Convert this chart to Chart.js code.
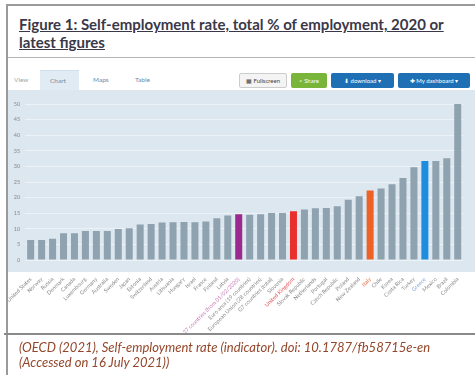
<!DOCTYPE html>
<html><head><meta charset="utf-8">
<script src="https://cdn.jsdelivr.net/npm/chart.js@4.4.1/dist/chart.umd.min.js"></script>
<style>
html,body{margin:0;padding:0;background:#fff;width:475px;height:375px;overflow:hidden;font-family:Lato,"Open Sans",sans-serif;}
#frameTop{position:absolute;left:6px;top:4px;width:480px;height:2px;background:#9a9a9a;}
#frameLeft{position:absolute;left:6px;top:4px;width:2px;height:375px;background:#9a9a9a;}
#titleSep{position:absolute;left:8px;top:57px;width:470px;height:1px;background:#b5b5b5;}
#bottomSep{position:absolute;left:4px;top:333px;width:480px;height:2px;background:#8a8a8a;}
#title{position:absolute;left:19px;top:15px;font-weight:bold;font-size:15px;line-height:18px;color:#3a3848;text-decoration:underline;letter-spacing:0px;}
#foot{position:absolute;left:19px;top:340px;font-style:italic;font-size:13px;line-height:15px;color:#94462a;letter-spacing:0px;}
.tab{position:absolute;top:76px;font-size:6.5px;color:#6a8bb0;}
#chartTab{position:absolute;left:40px;top:70px;width:39px;height:21px;background:#e1ebf3;border-top:1px solid #cfe0ec;}
.btn{position:absolute;top:73px;height:15px;border-radius:2px;font-size:6px;line-height:15px;text-align:center;color:#fff;}
#wrap{position:absolute;left:8px;top:90px;width:467px;height:244px;overflow:hidden;}
</style></head>
<body>
<div id="frameTop"></div><div id="frameLeft"></div>
<div id="title">Figure 1: Self-employment rate, total % of employment, 2020 or<br>latest figures</div>
<div id="titleSep"></div>
<div class="tab" style="left:14px;color:#9aa;">View</div>
<div id="chartTab"></div>
<div class="tab" style="left:50px;top:77px;color:#7a8a9a;">Chart</div>
<div class="tab" style="left:93px;">Maps</div>
<div class="tab" style="left:135px;">Table</div>
<div class="btn" style="left:239px;width:46px;background:#f4f4f4;border:1px solid #ccc;color:#444;height:13px;line-height:13px;">&#9638; Fullscreen</div>
<div class="btn" style="left:291px;width:36px;background:#79b53a;">&lt; Share</div>
<div class="btn" style="left:331px;width:63px;background:#1f6fb5;">&#11015; download &#9662;</div>
<div class="btn" style="left:398px;width:72px;background:#1f6fb5;">&#10010; My dashboard &#9662;</div>
<div id="wrap"><canvas id="c" width="467" height="244"></canvas></div>
<div id="bottomSep"></div>
<div id="foot">(OECD (2021), Self-employment rate (indicator). doi: 10.1787/fb58715e-en<br>(Accessed on 16 July 2021))</div>
<script>
const countries = ["United States","Norway","Russia","Denmark","Canada","Luxembourg","Germany","Australia","Sweden","Japan",
  "Estonia","Switzerland","Austria","Lithuania","Hungary","Israel","France","Finland","Latvia",
  "European Union – 27 countries (from 01/02/2020)","Euro area (19 countries)","European Union (28 countries)","G7 countries (total)",
  "Slovenia","United Kingdom","Slovak Republic","Netherlands","Portugal","Czech Republic","Poland","New Zealand",
  "Italy","Chile","Korea","Costa Rica","Turkey","Greece","Mexico","Brazil","Colombia"];
const selfEmploymentRate = [6.4,6.4,6.8,8.6,8.6,9.3,9.3,9.3,9.9,10.2,
  11.4,11.5,12.0,12.1,12.2,12.1,12.3,13.4,14.3,
  14.7,14.5,14.7,15.1,15.1,15.6,16.2,16.6,16.7,17.2,19.3,20.4,
  22.3,22.9,24.3,26.3,29.7,31.7,31.7,32.6,50.7];
const highlighted = {"European Union – 27 countries (from 01/02/2020)":"#9b2a8e","United Kingdom":"#e8312e","Italy":"#ee6228","Greece":"#1e8de0"};
const labelHighlight = {"European Union – 27 countries (from 01/02/2020)":"#c77ab8","United Kingdom":"#e25555","Italy":"#e2704a","Greece":"#7fa6dd"};
const yTicks = [0,5,10,15,20,25,30,35,40,45,50];

const barColors = countries.map(c => highlighted[c] || "#8fa2b0");
const bgPlugin = {
  id:'bg',
  beforeDraw(chart){
    const {ctx, chartArea} = chart;
    ctx.save();
    ctx.fillStyle = '#dce7ef';
    ctx.fillRect(0,0,chart.width, chartArea.bottom + 12);
    ctx.restore();
  }
};
new Chart(document.getElementById('c'), {
  type:'bar',
  data:{labels:countries, datasets:[{data:selfEmploymentRate, backgroundColor:barColors, barPercentage:0.64, categoryPercentage:1.0}]},
  options:{
    responsive:false, animation:false, devicePixelRatio:1,
    layout:{padding:{top:14,right:11.8,bottom:0,left:0}},
    plugins:{legend:{display:false},tooltip:{enabled:false}},
    scales:{
      x:{
        grid:{display:false,drawTicks:false}, border:{display:false},
        ticks:{autoSkip:false,minRotation:45,maxRotation:45,padding:16,font:{size:5.5,family:'Lato'},
          color:(ctx)=>labelHighlight[countries[ctx.index]] || '#8a8a8a'},
        afterFit(s){ s.height = 74; s.paddingLeft = 0; s.paddingRight = 0; }
      },
      y:{
        min:0,max:50,
        afterBuildTicks(s){ s.ticks = yTicks.map(v=>({value:v})); },
        grid:{color:'#edf2f6',lineWidth:1,drawTicks:false}, border:{display:false},
        ticks:{padding:5,font:{size:5.5,family:'Lato'},color:'#8a8a8a'},
        afterFit(s){ s.width = 17.2; s.paddingTop = 0; s.paddingBottom = 0; }
      }
    }
  },
  plugins:[bgPlugin]
});
</script>
</body></html>
